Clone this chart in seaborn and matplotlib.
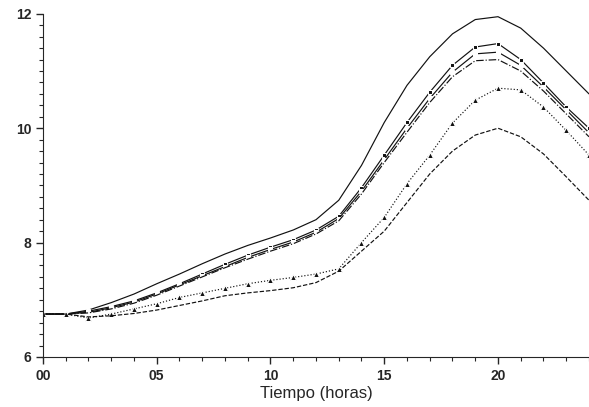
import numpy as np
import pandas as pd
import seaborn as sns
import matplotlib.pyplot as plt
from matplotlib.ticker import MultipleLocator, FuncFormatter

# datos (hora 0..24)
horas = list(range(0, 25))

serie_a = [6.75, 6.75, 6.82, 6.95, 7.10, 7.28, 7.45, 7.63, 7.80, 7.95, 8.08, 8.22, 8.40,
           8.74, 9.35, 10.10, 10.75, 11.25, 11.65, 11.90, 11.95, 11.75, 11.40, 11.00, 10.60]
serie_b = [6.75, 6.75, 6.80, 6.88, 6.98, 7.12, 7.28, 7.45, 7.62, 7.78, 7.92, 8.05, 8.22,
           8.46, 8.96, 9.53, 10.10, 10.63, 11.10, 11.42, 11.48, 11.20, 10.79, 10.37, 10.00]
serie_c = [6.75, 6.75, 6.78, 6.86, 6.96, 7.10, 7.26, 7.42, 7.58, 7.74, 7.88, 8.01, 8.18,
           8.42, 8.90, 9.45, 10.00, 10.52, 10.98, 11.30, 11.33, 11.10, 10.72, 10.32, 9.92]
serie_d = [6.75, 6.75, 6.77, 6.84, 6.94, 7.08, 7.24, 7.40, 7.56, 7.71, 7.85, 7.98, 8.15,
           8.38, 8.85, 9.40, 9.93, 10.45, 10.90, 11.18, 11.20, 11.00, 10.65, 10.25, 9.85]
serie_e = [6.75, 6.75, 6.68, 6.75, 6.84, 6.93, 7.04, 7.12, 7.20, 7.28, 7.34, 7.39, 7.45,
           7.54, 8.00, 8.44, 9.03, 9.53, 10.09, 10.49, 10.70, 10.67, 10.37, 9.96, 9.53]
serie_f = [6.75, 6.75, 6.70, 6.72, 6.76, 6.82, 6.90, 6.98, 7.07, 7.12, 7.16, 7.21, 7.30,
           7.50, 7.85, 8.20, 8.70, 9.20, 9.60, 9.88, 10.00, 9.85, 9.55, 9.15, 8.74]

sns.set_style("ticks")
plt.rcParams['font.family'] = ['Liberation Sans', 'DejaVu Sans']

fig = plt.figure(figsize=(5.89, 4.07), dpi=100)
ax = fig.add_axes([0.073, 0.123, 0.927, 0.843])

# estilos de cada curva
estilos = [
    (serie_a, dict(linestyle='-', marker=None)),
    (serie_b, dict(linestyle='-', marker='s', markersize=3.2)),
    (serie_c, dict(linestyle='-', marker='s', markersize=3.5, markerfacecolor='white')),
    (serie_d, dict(linestyle='-.', marker=None)),
    (serie_e, dict(linestyle=':', marker='^', markersize=4.5)),
    (serie_f, dict(linestyle='--', marker=None)),
]
for vals, kw in estilos:
    sns.lineplot(x=horas, y=vals, ax=ax, color='#111111', linewidth=0.85, **kw)

ax.set_xlim(0, 24)
ax.set_ylim(6, 12)
ax.xaxis.set_major_locator(MultipleLocator(5))
ax.xaxis.set_minor_locator(MultipleLocator(1))
ax.yaxis.set_major_locator(MultipleLocator(2))
ax.yaxis.set_minor_locator(MultipleLocator(0.2))
ax.xaxis.set_major_formatter(FuncFormatter(lambda v, p: '%02d' % v))
ax.yaxis.set_major_formatter(FuncFormatter(lambda v, p: '%d' % v))
ax.tick_params(which='major', length=5, width=1, labelsize=10)
ax.tick_params(which='minor', length=3, width=0.8)
for lab in ax.get_xticklabels() + ax.get_yticklabels():
    lab.set_fontweight('bold')

ax.set_xlabel('Tiempo (horas)', fontsize=12, labelpad=2)
ax.set_ylabel('')
sns.despine(ax=ax)

fig.savefig('out.png', dpi=100)
